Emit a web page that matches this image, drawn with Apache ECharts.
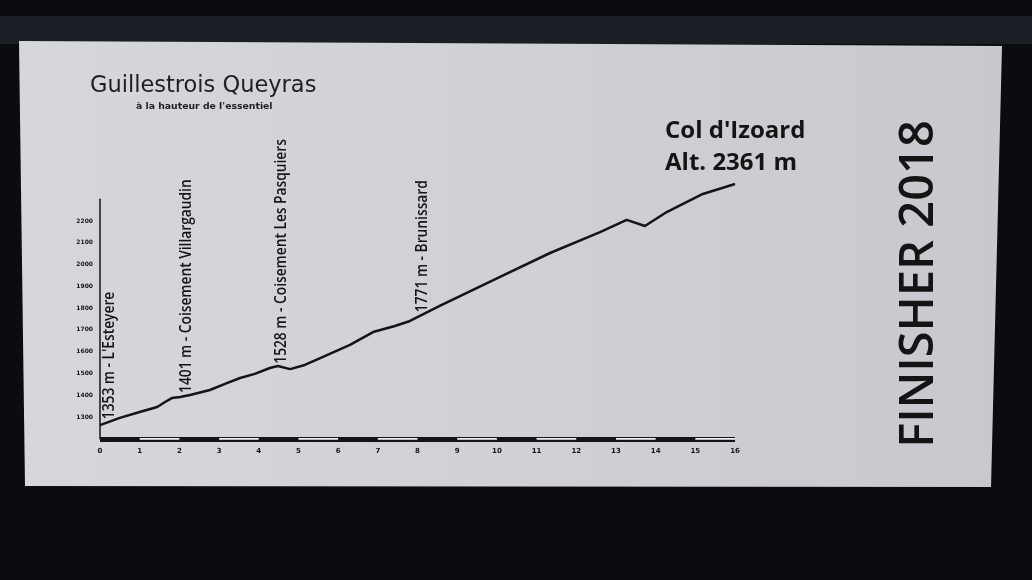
<!DOCTYPE html>
<html><head><meta charset="utf-8">
<script src="https://cdn.jsdelivr.net/npm/echarts@6/dist/echarts.min.js"></script>
<style>html,body{margin:0;padding:0;background:#0b0c10}#c{width:1032px;height:580px}</style>
</head><body><div id="c"></div>
<script>
// ---- data ----
const distanceKm = [0, 0.5, 1.0, 1.44, 1.64, 1.81, 2.02, 2.27, 2.77, 3.15, 3.53, 3.9, 4.28, 4.48, 4.79, 5.16, 5.62, 6.3, 6.88, 7.43, 7.81, 8.06, 8.56, 10.08, 11.34, 12.6, 13.27, 13.73, 14.28, 14.74, 15.19, 16];
const elevationM = [1263, 1296, 1323, 1346, 1369, 1387, 1392, 1401, 1424, 1452, 1479, 1498, 1525, 1534, 1520, 1539, 1576, 1631, 1690, 1718, 1741, 1764, 1810, 1943, 2053, 2149, 2205, 2177, 2241, 2283, 2324, 2370];
const xTickLabels = ['0','1','2','3','4','5','6','7','8','9','10','11','12','13','14','15','16'];
const yTickLabels = [1300, 1400, 1500, 1600, 1700, 1800, 1900, 2000, 2100, 2200];
const waypointKm = [0.2, 2.15, 4.55, 8.1];
const waypointText = ["1353 m - L'Esteyere", "1401 m - Coisement Villargaudin", "1528 m - Coisement Les Pasquiers", "1771 m - Brunissard"];
const scaleWhiteSegments = [[1,2],[3,4],[5,6],[7,8],[9,10],[11,12],[13,14],[15,16]];
const brandTitle = 'Guillestrois Queyras';
const brandSubtitle = "à la hauteur de l'essentiel";
const summitName = "Col d'Izoard";
const summitAlt = 'Alt. 2361 m';
const finisherText = 'FINISHER 2018';

// ---- chart ----
const chart = echarts.init(document.getElementById('c'), null, {renderer: 'canvas'});
const ink = '#141414';
const profile = distanceKm.map((d, i) => [d, elevationM[i]]);

chart.setOption({
  animation: false,
  backgroundColor: 'transparent',
  grid: {left: 100, right: 297, top: 199.2, bottom: 141.2, containLabel: false},
  xAxis: {
    type: 'value', min: 0, max: 16, interval: 1,
    axisLine: {show: true, lineStyle: {color: ink, width: 5, cap: 'butt'}},
    axisTick: {show: false}, splitLine: {show: false},
    axisLabel: {margin: 9, fontSize: 7, fontWeight: 'bold', color: ink, fontFamily: 'DejaVu Sans',
      formatter: v => xTickLabels[v] !== undefined ? xTickLabels[v] : ''}
  },
  yAxis: {
    type: 'value', min: 1200, max: 2300, interval: 100, offset: 3,
    axisLine: {show: true, lineStyle: {color: ink, width: 1.5}},
    axisTick: {show: false}, splitLine: {show: false},
    axisLabel: {margin: 4, fontSize: 6, fontWeight: 'bold', color: ink, fontFamily: 'DejaVu Sans',
      formatter: v => yTickLabels.includes(v) ? String(v) : ''}
  },
  series: [
    {
      type: 'line', data: profile, showSymbol: false, clip: false, z: 5,
      lineStyle: {color: ink, width: 2.5, join: 'round'}
    },
    {
      type: 'lines', coordinateSystem: 'cartesian2d', z: 4, silent: true,
      data: scaleWhiteSegments.map(s => ({coords: [[s[0], 1200], [s[1], 1200]]})),
      lineStyle: {color: '#f2f2f2', width: 2, opacity: 1, curveness: 0}
    }
  ]
});

function elevAt(km) {
  for (let i = 1; i < distanceKm.length; i++) {
    if (km <= distanceKm[i]) {
      const t = (km - distanceKm[i-1]) / (distanceKm[i] - distanceKm[i-1]);
      return elevationM[i-1] + t * (elevationM[i] - elevationM[i-1]);
    }
  }
  return elevationM[elevationM.length - 1];
}

const cardGrad = new echarts.graphic.LinearGradient(0, 0, 1, 0, [
  {offset: 0, color: '#d6d7db'}, {offset: 0.5, color: '#d0d1d5'}, {offset: 1, color: '#c8c9ce'}
]);

const graphics = [
  {type: 'rect', z: -100, shape: {x: 0, y: 0, width: 1032, height: 580}, style: {fill: '#0b0c10'}},
  {type: 'rect', z: -99, shape: {x: 0, y: 16, width: 1032, height: 28}, style: {fill: '#1b1e24'}},
  {type: 'polygon', z: -98, shape: {points: [[19, 41], [1002, 46], [991, 487], [25, 486]]}, style: {fill: cardGrad}},
  {type: 'text', z: 50, x: 90, y: 86, style: {text: brandTitle, fill: '#1e1e1e', font: '22.5px "DejaVu Sans"', align: 'left', verticalAlign: 'middle', textAlign: 'left', textVerticalAlign: 'middle'}},
  {type: 'text', z: 50, x: 136, y: 107, style: {text: brandSubtitle, fill: '#1e1e1e', font: 'bold 9.3px "DejaVu Sans"', align: 'left', verticalAlign: 'middle', textAlign: 'left', textVerticalAlign: 'middle'}},
  {type: 'text', z: 50, x: 665, y: 131, style: {text: summitName, fill: ink, font: 'bold 24px "Open Sans"', align: 'left', verticalAlign: 'middle', textAlign: 'left', textVerticalAlign: 'middle'}},
  {type: 'text', z: 50, x: 665, y: 163, style: {text: summitAlt, fill: ink, font: 'bold 24px "Open Sans"', align: 'left', verticalAlign: 'middle', textAlign: 'left', textVerticalAlign: 'middle'}},
  {type: 'text', z: 50, x: 920, y: 284, rotation: Math.PI / 2, style: {text: finisherText, fill: ink, font: '600 47px "Open Sans"', align: 'center', verticalAlign: 'middle', textAlign: 'center', textVerticalAlign: 'middle'}}
];

waypointKm.forEach((km, i) => {
  const p = chart.convertToPixel({gridIndex: 0}, [km, elevAt(km)]);
  graphics.push({
    type: 'text', z: 50, x: p[0] + 1, y: p[1] - 3, rotation: Math.PI / 2, scaleX: 0.86,
    style: {text: waypointText[i], fill: ink, font: '600 16px "Open Sans"', align: 'left', verticalAlign: 'middle', textAlign: 'left', textVerticalAlign: 'middle'}
  });
});

chart.setOption({graphic: {elements: graphics}});
</script></body></html>
